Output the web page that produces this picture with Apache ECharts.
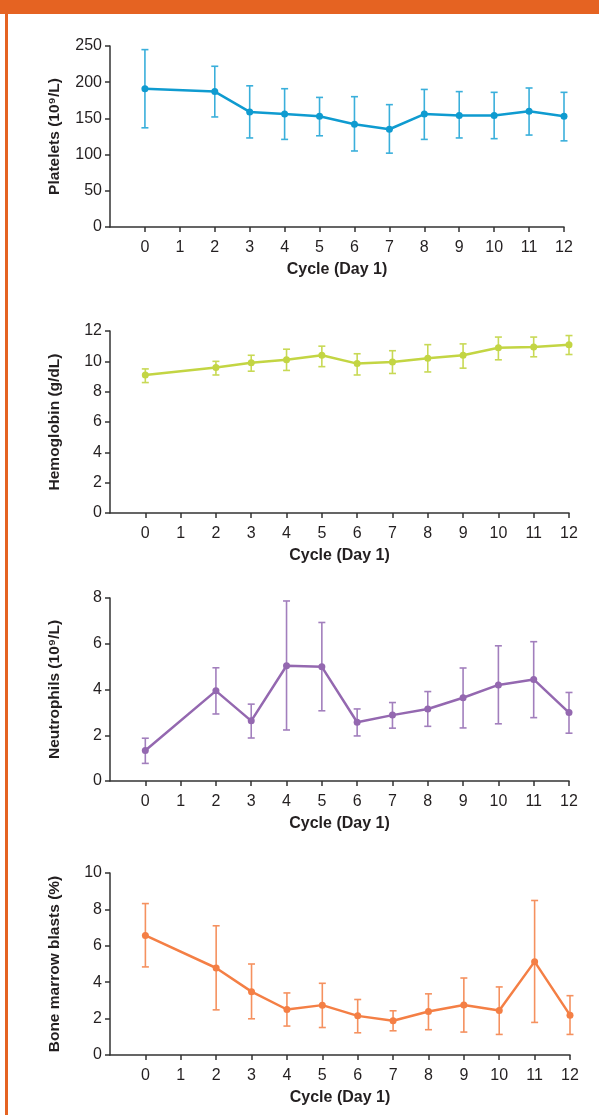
<!DOCTYPE html>
<html>
<head>
<meta charset="utf-8">
<script src="https://cdn.jsdelivr.net/npm/echarts@6/dist/echarts.min.js"></script>
<style>
  html, body { margin: 0; padding: 0; background: #fff; }
  #chart { width: 599px; height: 1115px; }
</style>
</head>
<body>
<div id="chart"></div>
<script>
// cycle numbers (Day 1) where values were measured
const cycles = [0, 2, 3, 4, 5, 6, 7, 8, 9, 10, 11, 12];
const xTicks = [0, 1, 2, 3, 4, 5, 6, 7, 8, 9, 10, 11, 12];

// platelets, 10^9/L
const plateletMean = [191, 187, 159, 156, 153, 142, 135, 156, 154, 154, 160, 153];
const plateletLow = [137, 152, 123, 121, 126, 105, 102, 121, 123, 122, 127, 119];
const plateletHigh = [245, 222, 195, 191, 179, 180, 169, 190, 187, 186, 192, 186];

// hemoglobin, g/dL
const hgbMean = [9.1, 9.6, 9.9, 10.1, 10.4, 9.85, 9.95, 10.2, 10.4, 10.9, 10.95, 11.1];
const hgbLow = [8.6, 9.1, 9.35, 9.4, 9.65, 9.1, 9.2, 9.3, 9.55, 10.1, 10.3, 10.45];
const hgbHigh = [9.5, 10.0, 10.4, 10.8, 11.0, 10.5, 10.7, 11.1, 11.15, 11.6, 11.6, 11.7];

// neutrophils, 10^9/L
const neutMean = [1.33, 3.94, 2.63, 5.04, 4.99, 2.57, 2.88, 3.15, 3.64, 4.2, 4.44, 2.99];
const neutLow = [0.77, 2.93, 1.88, 2.23, 3.07, 1.97, 2.31, 2.39, 2.32, 2.5, 2.77, 2.09];
const neutHigh = [1.87, 4.95, 3.36, 7.87, 6.93, 3.15, 3.43, 3.91, 4.94, 5.91, 6.09, 3.87];

// bone marrow blasts, %
const blastMean = [6.57, 4.78, 3.48, 2.5, 2.74, 2.15, 1.88, 2.39, 2.75, 2.44, 5.13, 2.19];
const blastLow = [4.84, 2.48, 1.99, 1.59, 1.51, 1.22, 1.33, 1.39, 1.26, 1.13, 1.79, 1.13];
const blastHigh = [8.32, 7.1, 5.0, 3.41, 3.94, 3.05, 2.43, 3.36, 4.23, 3.74, 8.49, 3.26];

const panels = [
  { name: 'Platelets (10⁹/L)', mean: plateletMean, low: plateletLow, high: plateletHigh,
    max: 250, step: 50, color: '#0f9bd0', barColor: '#3aafdb', top: 46, bottom: 227, right: 35 },
  { name: 'Hemoglobin (g/dL)', mean: hgbMean, low: hgbLow, high: hgbHigh,
    max: 12, step: 2, color: '#c3d543', barColor: '#c8d955', top: 331, bottom: 513, right: 30 },
  { name: 'Neutrophils (10⁹/L)', mean: neutMean, low: neutLow, high: neutHigh,
    max: 8, step: 2, color: '#9468b0', barColor: '#a27fbd', top: 598, bottom: 781, right: 30 },
  { name: 'Bone marrow blasts (%)', mean: blastMean, low: blastLow, high: blastHigh,
    max: 10, step: 2, color: '#f47f45', barColor: '#f5915f', top: 873, bottom: 1055, right: 29 }
];

const font = '"Liberation Sans", Arial, sans-serif';
const axisColor = '#333';
const textColor = '#231f20';

const chart = echarts.init(document.getElementById('chart'), null, { renderer: 'canvas' });

const grid = [], xAxis = [], yAxis = [], series = [];

panels.forEach((p, i) => {
  grid.push({ left: 110, right: p.right, top: p.top, height: p.bottom - p.top });
  xAxis.push({
    type: 'value', gridIndex: i, min: -1, max: 12,
    name: 'Cycle (Day 1)', nameLocation: 'middle', nameGap: 35,
    nameTextStyle: { fontFamily: font, fontWeight: 'bold', fontSize: 16, color: textColor },
    axisLine: { onZero: false, lineStyle: { color: axisColor, width: 1.5 } },
    axisTick: { customValues: xTicks, length: 5, lineStyle: { color: axisColor, width: 1.5 } },
    axisLabel: { customValues: xTicks, margin: 13, fontFamily: font, fontSize: 16, color: textColor },
    splitLine: { show: false }
  });
  yAxis.push({
    type: 'value', gridIndex: i, min: 0, max: p.max, interval: p.step,
    name: p.name, nameLocation: 'middle', nameGap: 47, nameRotate: 90,
    nameTextStyle: { fontFamily: font, fontWeight: 'bold', fontSize: 15.5, color: textColor },
    axisLine: { show: true, onZero: false, lineStyle: { color: axisColor, width: 1.5 } },
    axisTick: { show: true, length: 5, lineStyle: { color: axisColor, width: 1.5 } },
    axisLabel: { margin: 8, fontFamily: font, fontSize: 16, color: textColor },
    splitLine: { show: false }
  });

  series.push({
    type: 'custom', xAxisIndex: i, yAxisIndex: i, z: 1, silent: true,
    data: cycles.map((c, k) => [c, p.low[k], p.high[k]]),
    renderItem: (params, api) => {
      const x = api.value(0);
      const lo = api.coord([x, api.value(1)]);
      const hi = api.coord([x, api.value(2)]);
      const w = 3.5;
      const st = { stroke: p.barColor, lineWidth: 1.6 };
      return {
        type: 'group',
        children: [
          { type: 'line', shape: { x1: lo[0], y1: lo[1], x2: hi[0], y2: hi[1] }, style: st },
          { type: 'line', shape: { x1: hi[0] - w, y1: hi[1], x2: hi[0] + w, y2: hi[1] }, style: st },
          { type: 'line', shape: { x1: lo[0] - w, y1: lo[1], x2: lo[0] + w, y2: lo[1] }, style: st }
        ]
      };
    }
  });
  series.push({
    type: 'line', xAxisIndex: i, yAxisIndex: i, z: 3,
    data: cycles.map((c, k) => [c, p.mean[k]]),
    symbol: 'circle', symbolSize: 7, showSymbol: true,
    lineStyle: { color: p.color, width: 2.5 },
    itemStyle: { color: p.color },
    animation: false
  });
});

chart.setOption({
  animation: false,
  grid, xAxis, yAxis, series,
  graphic: [
    { type: 'rect', left: 0, top: 0, shape: { width: 599, height: 14 }, style: { fill: '#e56322' } },
    { type: 'rect', left: 5, top: 0, shape: { width: 3, height: 1115 }, style: { fill: '#e56322' } }
  ]
});
</script>
</body>
</html>
